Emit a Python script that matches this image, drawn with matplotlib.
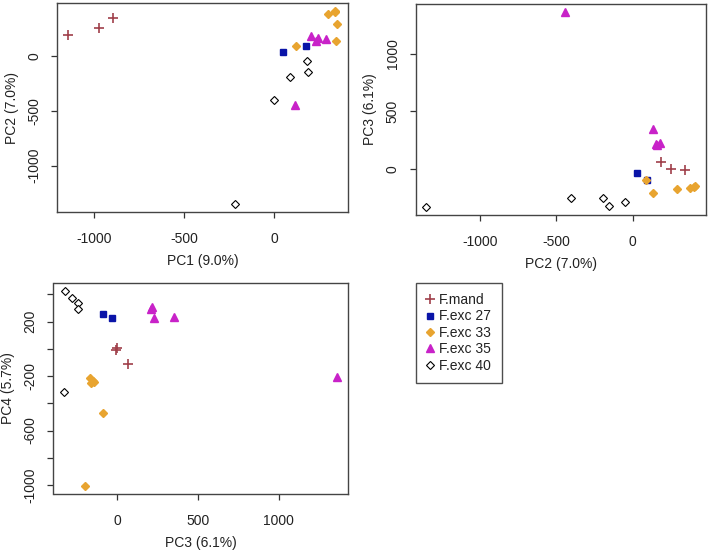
import numpy as np
import matplotlib
matplotlib.use("Agg")
import matplotlib.pyplot as plt
from matplotlib.lines import Line2D

plt.rcParams['font.family'] = ['Liberation Sans', 'DejaVu Sans']
plt.rcParams['font.size'] = 10
plt.rcParams['axes.unicode_minus'] = False

# PCA scores per group: columns PC1, PC2, PC3, PC4
groups = ["F.mand", "F.exc 27", "F.exc 33", "F.exc 35", "F.exc 40"]

f_mand = np.array([
    [-1146, 185, 65, -112],
    [-975, 252, 0, 5],
    [-893, 344, -8, -8],
])
f_exc27 = np.array([
    [51, 30, -30, 229],
    [177, 90, -88, 258],
])
f_exc33 = np.array([
    [124, 85, -90, -474],
    [347, 133, -200, -1009],
    [352, 290, -165, -217],
    [302, 375, -160, -249],
    [337, 400, -150, -237],
    [342, 408, -140, -242],
])
f_exc35 = np.array([
    [116, -445, 1360, -205],
    [233, 130, 350, 236],
    [287, 150, 218, 305],
    [244, 157, 212, 290],
    [207, 180, 228, 229],
])
f_exc40 = np.array([
    [-219, -1350, -326, -320],
    [-1, -405, -245, 334],
    [88, -192, -245, 290],
    [191, -153, -320, 427],
    [185, -50, -282, 371],
])

pc_var = [9.0, 7.0, 6.1, 5.7]

data = [f_mand, f_exc27, f_exc33, f_exc35, f_exc40]
styles = [
    dict(marker='+', color='#A0404A', ms=7, mew=1.2),
    dict(marker='s', color='#0A14A8', ms=4),
    dict(marker='D', color='#E8A430', ms=4.2),
    dict(marker='^', color='#C822C8', ms=5.5),
    dict(marker='D', color='black', mfc='white', ms=3.8, mew=0.8),
]

W, H = 709, 552
fig = plt.figure(figsize=(W / 100, H / 100), dpi=100)


def px_axes(left, top, right, bottom):
    return fig.add_axes([left / W, 1 - bottom / H, (right - left) / W, (bottom - top) / H])


def panel(ax, i, j, xticks, yticks, ylabels=None):
    for d, st in zip(data, styles):
        ax.plot(d[:, i], d[:, j], linestyle='none', **st)
    ax.margins(0.04)
    ax.set_xticks(xticks)
    ax.set_yticks(yticks)
    if ylabels is not None:
        ax.set_yticklabels(ylabels)
    for lab in ax.get_yticklabels():
        lab.set_rotation(90)
        lab.set_va('center')
    ax.tick_params(direction='out', length=4.5, width=0.9, colors='#333333',
                   labelcolor='#222222', labelsize=10, pad=7)
    ax.tick_params(axis='x', pad=10)
    for sp in ax.spines.values():
        sp.set_color('#444444')
        sp.set_linewidth(1.0)
    ax.set_xlabel("PC%d (%.1f%%)" % (i + 1, pc_var[i]), color='#222222', labelpad=6)
    ax.set_ylabel("PC%d (%.1f%%)" % (j + 1, pc_var[j]), color='#222222', labelpad=6)


ax1 = px_axes(57, 3, 348, 212)
panel(ax1, 0, 1, [-1000, -500, 0], [-1000, -500, 0])

ax2 = px_axes(415.5, 4, 706, 215)
panel(ax2, 1, 2, [-1000, -500, 0], [0, 500, 1000])

yt3 = [-1000, -800, -600, -400, -200, 0, 200, 400]
yl3 = ["-1000", "", "-600", "", "-200", "", "200", ""]
ax3 = px_axes(53.5, 283, 348, 494)
panel(ax3, 2, 3, [0, 500, 1000], yt3, yl3)

handles = [Line2D([], [], linestyle='none', **st) for st in styles]
leg = fig.legend(handles, groups, loc='upper left',
                 bbox_to_anchor=(415.7 / W, 1 - 282.7 / H), borderaxespad=0,
                 frameon=True, fancybox=False, handlelength=0.5, handletextpad=0.45,
                 labelspacing=0.17, borderpad=0.75, fontsize=10)
leg.get_frame().set_edgecolor('#222222')
leg.get_frame().set_linewidth(1.0)
for t in leg.get_texts():
    t.set_color('#222222')

fig.savefig("out.png", dpi=100)
